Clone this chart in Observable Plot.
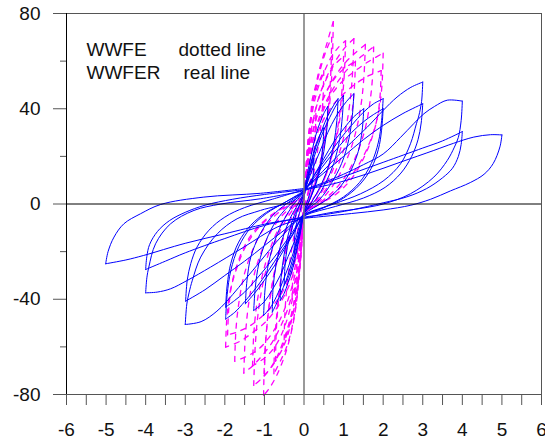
<!DOCTYPE html>
<html>
<head>
<meta charset="utf-8">
<script src="https://cdn.jsdelivr.net/npm/d3@7"></script>
<script src="https://cdn.jsdelivr.net/npm/@observablehq/plot@0.6"></script>
<style>
  html, body { margin: 0; padding: 0; background: #fff; }
  #chart svg { display: block; }
</style>
</head>
<body>
<div id="chart"></div>
<script>
// ---------- tick labels ----------
const xTickLabels = [-6, -5, -4, -3, -2, -1, 0, 1, 2, 3, 4, 5, 6];
const xMinorTicks = [-6, -5.5, -5, -4.5, -4, -3.5, -3, -2.5, -2, -1.5, -1, -0.5, 0, 0.5, 1, 1.5, 2, 2.5, 3, 3.5, 4, 4.5, 5, 5.5, 6];
const yTickLabels = [-80, -40, 0, 40, 80];
const yMinorTicks = [-60, -20, 20, 60];

// ---------- legend ----------
const seriesNames = ["WWFE", "WWFER"];
const seriesStyles = ["dotted line", "real line"];

// ---------- WWFER (blue, solid) : hysteresis cycles [displacement, force] ----------
const wwferLoop1 = [[0,3],[0.1,10],[0.2,16],[0.25,19],[0.24,14],[0.2,8],[0.1,2],[0,-3],[-0.1,-10],[-0.2,-16],[-0.25,-20],[-0.24,-15],[-0.2,-9],[-0.1,-3],[0,3]];
const wwferLoop2 = [[0,4],[0.1,12],[0.2,19],[0.3,25],[0.4,29],[0.5,32],[0.48,25],[0.42,17],[0.3,9],[0.15,2],[0,-4],[-0.1,-12],[-0.2,-20],[-0.3,-26],[-0.4,-31],[-0.5,-34],[-0.48,-26],[-0.42,-18],[-0.3,-10],[-0.15,-2],[0,4]];
const wwferLoop3 = [[0,5],[0.1,14],[0.2,22],[0.3,29],[0.4,34],[0.5,38],[0.6,41],[0.58,32],[0.5,22],[0.4,14],[0.25,6],[0.1,0],[0,-4],[-0.1,-13],[-0.2,-21],[-0.3,-28],[-0.4,-33],[-0.5,-37.5],[-0.6,-40.5],[-0.58,-31],[-0.5,-21],[-0.4,-13],[-0.25,-5],[-0.1,0],[0,5]];
const wwferLoop4 = [[0,5],[0.15,15],[0.3,24],[0.45,31],[0.6,37],[0.75,41.5],[0.86,44.2],[0.83,35],[0.75,25],[0.6,15],[0.4,7],[0.2,1],[0,-4],[-0.15,-15],[-0.3,-24],[-0.45,-32],[-0.6,-38],[-0.7,-42],[-0.8,-45.4],[-0.78,-35],[-0.7,-25],[-0.55,-15],[-0.35,-6],[-0.15,0],[0,5]];
const wwferLoop5 = [[0,5],[0.15,14],[0.3,22],[0.5,31],[0.7,38],[0.85,42.5],[1.0,45.6],[0.97,37],[0.9,27],[0.75,17],[0.55,9],[0.3,2],[0,-4],[-0.15,-14],[-0.3,-22],[-0.5,-31],[-0.7,-39],[-0.85,-43.5],[-1.02,-46.8],[-0.99,-37],[-0.92,-27],[-0.77,-17],[-0.55,-8],[-0.3,-1],[0,5]];
const wwferLoop6 = [[0,5],[0.2,14],[0.4,22],[0.6,30],[0.8,36.5],[1.0,41.5],[1.15,44.5],[1.26,46.3],[1.22,37],[1.13,27],[0.95,17],[0.7,9],[0.4,2],[0,-4],[-0.2,-14],[-0.4,-22],[-0.6,-30],[-0.8,-36],[-1.0,-41],[-1.27,-44.7],[-1.23,-35],[-1.14,-25],[-0.95,-15],[-0.7,-7],[-0.4,-1],[0,5]];
const wwferLoop7 = [[0,5],[0.25,12],[0.5,19],[0.75,26],[1.0,31.5],[1.25,36.5],[1.51,40],[1.47,31],[1.37,22],[1.15,13],[0.85,6],[0.5,1],[0,-4.5],[-0.25,-12],[-0.5,-19],[-0.75,-26],[-1.0,-32],[-1.25,-37.5],[-1.48,-41.9],[-1.44,-32],[-1.34,-22],[-1.12,-13],[-0.8,-5],[-0.45,0],[0,5]];
const wwferLoop8 = [[0,5],[0.3,13],[0.6,20],[0.9,27],[1.2,33],[1.5,38.5],[1.75,42],[2.0,44.2],[1.96,35],[1.88,26],[1.7,17],[1.4,9],[1.0,3],[0.5,-1.5],[0,-5],[-0.3,-13],[-0.6,-20.5],[-0.9,-28],[-1.2,-35],[-1.5,-41],[-1.75,-45.5],[-1.98,-48.3],[-1.94,-38],[-1.85,-28],[-1.65,-18],[-1.35,-10],[-0.95,-4],[-0.5,0.5],[0,5]];
const wwferLoop9 = [[0,5],[0.3,12],[0.6,18.5],[0.9,24.5],[1.2,30],[1.5,34.5],[1.75,37.5],[2.0,40],[1.96,31],[1.88,23],[1.7,15],[1.4,8],[1.0,2.5],[0.5,-1.5],[0,-5],[-0.3,-12],[-0.6,-19],[-0.9,-25.5],[-1.2,-31.5],[-1.5,-37],[-1.75,-40.5],[-1.98,-43.3],[-1.94,-34],[-1.85,-25],[-1.65,-16],[-1.35,-9],[-0.95,-3.5],[-0.5,0.5],[0,5.5]];
const wwferLoop10 = [[0,6],[0.33,11.3],[0.9,21],[1.3,27.5],[1.6,32.3],[2.0,39.3],[2.35,44.9],[2.7,49],[3.0,51.2],[2.97,43],[2.9,37],[2.84,33.7],[2.69,25.3],[2.44,16.9],[2.02,9.9],[1.43,4.3],[0.75,0],[0,-4.5],[-0.3,-9],[-0.7,-16],[-1.1,-24],[-1.5,-32],[-1.8,-38],[-2.2,-45],[-2.6,-49.4],[-3.0,-50.6],[-2.96,-42],[-2.9,-37],[-2.82,-32],[-2.61,-22.3],[-2.19,-12.5],[-1.69,-6.2],[-1.1,-2.7],[-0.26,1.5],[0,6]];
const wwferLoop11 = [[0,6],[0.5,13],[1.0,20],[1.5,27],[2.0,33],[2.5,38],[3.0,42.1],[2.96,34],[2.88,27],[2.72,20],[2.45,13],[2.05,7],[1.5,2.5],[0.8,-1],[0,-5],[-0.5,-11],[-1.0,-17.5],[-1.5,-24],[-2.0,-30],[-2.5,-36],[-2.99,-40.8],[-2.95,-32],[-2.86,-25],[-2.7,-18],[-2.4,-11],[-2.0,-5.5],[-1.5,-1.5],[-0.8,2],[0,6]];
const wwferLoop12 = [[0,6],[0.5,9],[1.0,12.5],[1.5,16.5],[2.0,21],[2.44,28],[2.77,33.7],[3.03,37.9],[3.3,41],[3.62,43.6],[4.0,43.2],[3.97,35],[3.9,28],[3.8,23.9],[3.62,18.3],[3.28,11.3],[2.69,4.3],[2.0,0],[1.3,-2.2],[0.75,-3.4],[0,-6],[-0.68,-9.7],[-1.52,-18.1],[-2.36,-26.5],[-2.95,-32.1],[-3.37,-35.6],[-3.71,-37],[-4.0,-37.3],[-3.97,-31],[-3.92,-26.5],[-3.75,-16.7],[-3.37,-8.3],[-2.78,-2.7],[-2.1,0],[-1.1,2.2],[0,5.5]];
const wwferLoop13 = [[0,5.5],[1.0,11.5],[2.0,17.5],[3.0,23.5],[3.5,26.5],[4.0,30.4],[3.97,25],[3.9,20],[3.75,15],[3.5,11],[3.1,6.5],[2.6,3],[2.0,0.5],[1.2,-2.5],[0.5,-4.5],[0,-5.5],[-1.0,-9],[-2.0,-14.5],[-3.0,-20.5],[-3.5,-24],[-4.0,-27.5],[-3.97,-22],[-3.9,-17],[-3.7,-11.5],[-3.4,-7],[-3.0,-3.5],[-2.5,-0.5],[-1.8,2],[-1.0,4],[0,6]];
const wwferLoop14 = [[0,6],[0.75,8.5],[1.6,12.7],[2.44,17.6],[3.28,22.5],[3.78,25.5],[4.29,28.1],[4.71,29.1],[5.0,29],[4.95,24],[4.78,17],[4.55,12.5],[4.2,9],[3.7,5.5],[3.2,2],[2.7,-0.5],[2.0,-2.5],[1.2,-4],[0.5,-5.2],[0,-6],[-0.5,-7],[-1.0,-8.5],[-2.0,-12.5],[-3.0,-16.5],[-4.05,-21.6],[-4.5,-23.5],[-5.01,-25.1],[-4.95,-20],[-4.8,-13.9],[-4.55,-8.3],[-4.13,-4.1],[-3.62,-0.2],[-2.53,2.9],[-1.1,4.5],[0,6.5]];

// ---------- WWFE (magenta, dashed) ----------
const wwfeLoop1 = [[0,2],[0.05,14],[0.1,24],[0.18,32],[0.3,38],[0.28,28],[0.22,17],[0.14,8],[0.06,2],[0,-2],[-0.05,-14],[-0.1,-25],[-0.18,-33],[-0.3,-40],[-0.28,-30],[-0.22,-18],[-0.14,-9],[-0.06,-2],[0,2]];
const wwfeLoop2 = [[0,2],[0.05,15],[0.1,26],[0.16,35],[0.24,44],[0.35,50],[0.5,56],[0.48,44],[0.42,32],[0.33,21],[0.22,11],[0.1,4],[0,-2],[-0.05,-15],[-0.1,-26],[-0.17,-36],[-0.26,-45],[-0.37,-51],[-0.5,-57],[-0.48,-45],[-0.42,-33],[-0.33,-21],[-0.22,-11],[-0.1,-3],[0,2]];
const wwfeLoop3 = [[0,2],[0.05,15],[0.1,26],[0.16,35],[0.21,44],[0.3,50],[0.37,55.4],[0.45,60],[0.54,65.2],[0.64,71],[0.74,76.6],[0.72,62],[0.68,48],[0.6,35],[0.5,24],[0.38,15],[0.25,8],[0.12,2],[0,-3],[-0.05,-15],[-0.13,-30],[-0.2,-42],[-0.34,-54.5],[-0.46,-61],[-0.59,-65.7],[-0.76,-71.3],[-0.74,-58],[-0.68,-45],[-0.6,-33],[-0.48,-22],[-0.35,-13],[-0.2,-5],[0,2]];
const wwfeLoop4 = [[0,2],[0.06,16],[0.12,28],[0.2,40],[0.3,49],[0.42,57],[0.55,64],[0.7,70],[0.68,56],[0.63,43],[0.55,31],[0.44,20],[0.3,10],[0.15,3],[0,-3],[-0.06,-16],[-0.13,-29],[-0.22,-41],[-0.33,-50],[-0.45,-57],[-0.58,-62],[-0.72,-66],[-0.7,-53],[-0.64,-40],[-0.55,-28],[-0.43,-17],[-0.28,-8],[-0.12,-2],[0,2]];
const wwfeLoop5 = [[0,2],[0.06,16],[0.14,30],[0.25,42],[0.4,51],[0.55,57],[0.7,62],[0.88,66],[1.05,68.5],[1.02,55],[0.96,43],[0.86,31],[0.72,21],[0.55,12],[0.35,5],[0.15,0],[0,-3],[-0.06,-18],[-0.14,-34],[-0.25,-48],[-0.4,-59],[-0.56,-67],[-0.72,-73],[-0.88,-77.5],[-1.02,-80.4],[-1.0,-66],[-0.94,-52],[-0.85,-39],[-0.72,-27],[-0.55,-16],[-0.35,-7],[-0.15,-1],[0,3]];
const wwfeLoop6 = [[0,2],[0.07,15],[0.16,28],[0.28,39],[0.42,47],[0.58,53],[0.75,58],[1.0,62],[0.97,50],[0.9,38],[0.8,27],[0.65,17],[0.45,8],[0.22,2],[0,-3],[-0.07,-16],[-0.16,-31],[-0.28,-44],[-0.42,-54],[-0.6,-62],[-0.8,-68],[-1.0,-72],[-0.97,-58],[-0.9,-45],[-0.8,-33],[-0.65,-21],[-0.45,-10],[-0.22,-3],[0,2]];
const wwfeLoop7 = [[0,3],[0.07,16],[0.16,29],[0.3,40],[0.47,49],[0.65,56],[0.85,61.5],[1.05,66],[1.26,69.4],[1.23,56],[1.17,44],[1.07,33],[0.92,23],[0.72,14],[0.48,6],[0.22,0],[0,-3],[-0.07,-17],[-0.16,-32],[-0.3,-45],[-0.47,-55],[-0.65,-63],[-0.85,-69],[-1.05,-73],[-1.27,-76.2],[-1.24,-62],[-1.18,-49],[-1.08,-37],[-0.93,-26],[-0.73,-16],[-0.5,-8],[-0.22,-1],[0,3]];
const wwfeLoop8 = [[0,3],[0.08,15],[0.18,27],[0.32,37],[0.5,45],[0.7,51],[0.95,56],[1.3,60],[1.27,48],[1.2,37],[1.08,27],[0.9,18],[0.66,9],[0.36,2],[0,-3],[-0.08,-16],[-0.18,-30],[-0.32,-42],[-0.5,-52],[-0.7,-59],[-0.95,-64],[-1.3,-68],[-1.27,-55],[-1.2,-43],[-1.08,-32],[-0.9,-21],[-0.66,-11],[-0.36,-3],[0,3]];
const wwfeLoop9 = [[0,3],[0.08,15],[0.2,28],[0.37,39],[0.58,47.5],[0.8,54],[1.05,59.5],[1.3,63.5],[1.55,67],[1.52,55],[1.46,44],[1.36,34],[1.2,24],[0.98,15],[0.7,7],[0.38,1],[0,-4],[-0.08,-16],[-0.2,-30],[-0.37,-42],[-0.58,-51],[-0.8,-58],[-1.05,-63.5],[-1.3,-68],[-1.52,-71],[-1.49,-58],[-1.43,-46],[-1.33,-35],[-1.18,-25],[-0.96,-15.5],[-0.68,-7.5],[-0.35,-1.5],[0,3]];
const wwfeLoop10 = [[0,3],[0.09,15],[0.22,27],[0.4,37],[0.62,45],[0.88,52],[1.15,57.5],[1.45,62],[1.76,66],[1.73,53],[1.66,42],[1.55,32],[1.36,22],[1.1,13],[0.78,6],[0.4,0.5],[0,-4],[-0.09,-16],[-0.22,-29],[-0.4,-40],[-0.62,-49],[-0.88,-56],[-1.15,-61],[-1.45,-64],[-1.75,-66],[-1.72,-53],[-1.65,-42],[-1.53,-31],[-1.34,-21],[-1.08,-12],[-0.74,-5],[-0.38,-0.5],[0,3]];
const wwfeLoop11 = [[0,3],[0.1,15],[0.25,28],[0.45,38],[0.7,46],[1.0,52],[1.3,56],[1.6,59.5],[2.0,63.4],[1.97,50],[1.9,40],[1.75,30],[1.5,20],[1.2,12],[0.8,5],[0.4,0],[0,-4],[-0.1,-16],[-0.25,-28],[-0.45,-37],[-0.7,-44],[-1.0,-50],[-1.3,-54],[-1.6,-57.5],[-1.98,-60.1],[-1.95,-48],[-1.88,-38],[-1.72,-28],[-1.48,-18],[-1.15,-10],[-0.75,-4],[-0.35,0],[0,3]];
const wwfeLoop12 = [[0,3],[0.1,14],[0.26,26],[0.48,35],[0.75,42],[1.05,47],[1.35,51],[1.65,54],[1.95,56],[1.92,45],[1.85,36],[1.7,27],[1.47,18],[1.17,10],[0.8,4],[0.4,0],[0,-4],[-0.1,-15],[-0.26,-26],[-0.48,-35],[-0.75,-42],[-1.05,-47],[-1.35,-51],[-1.65,-53.5],[-1.93,-55],[-1.9,-44],[-1.83,-34],[-1.68,-25],[-1.45,-16],[-1.13,-9],[-0.73,-3.5],[-0.35,0],[0,3]];

const wwferLoops = [wwferLoop1, wwferLoop2, wwferLoop3, wwferLoop4, wwferLoop5, wwferLoop6, wwferLoop7, wwferLoop8, wwferLoop9, wwferLoop10, wwferLoop11, wwferLoop12, wwferLoop13, wwferLoop14];
const wwfeLoops = [wwfeLoop1, wwfeLoop2, wwfeLoop3, wwfeLoop4, wwfeLoop5, wwfeLoop6, wwfeLoop7, wwfeLoop8, wwfeLoop9, wwfeLoop10, wwfeLoop11, wwfeLoop12];

// split each loop at its extreme displacements so tips stay sharp
function toSegments(loops, name) {
  const rows = [];
  loops.forEach((loop, li) => {
    let iMax = 0, iMin = 0;
    loop.forEach((p, i) => { if (p[0] > loop[iMax][0]) iMax = i; if (p[0] < loop[iMin][0]) iMin = i; });
    const cuts = [0, iMax, iMin, loop.length - 1];
    for (let s = 0; s < 3; s++) {
      loop.slice(cuts[s], cuts[s + 1] + 1).forEach(p => rows.push({x: p[0], y: p[1], seg: `${name}-${li}-${s}`}));
    }
  });
  return rows;
}
const wwferData = toSegments(wwferLoops, "wwfer");
const wwfeData = toSegments(wwfeLoops, "wwfe");

const axisColor = "#555";
const legendFont = 19;
const legendMarks = [
  Plot.text([seriesNames[0]], {frameAnchor: "top-left", dx: 20, dy: 36, text: d => d, textAnchor: "start", lineAnchor: "middle", fontSize: legendFont, fill: "#111"}),
  Plot.text([seriesStyles[0]], {frameAnchor: "top-left", dx: 112, dy: 36, text: d => d, textAnchor: "start", lineAnchor: "middle", fontSize: legendFont, fill: "#111"}),
  Plot.text([seriesNames[1]], {frameAnchor: "top-left", dx: 20, dy: 59.5, text: d => d, textAnchor: "start", lineAnchor: "middle", fontSize: legendFont, fill: "#111"}),
  Plot.text([seriesStyles[1]], {frameAnchor: "top-left", dx: 117, dy: 59.5, text: d => d, textAnchor: "start", lineAnchor: "middle", fontSize: legendFont, fill: "#111"})
];

const chart = Plot.plot({
  width: 545,
  height: 444,
  marginLeft: 66,
  marginRight: 4,
  marginTop: 13,
  marginBottom: 50,
  x: {domain: [-6, 6], label: null},
  y: {domain: [-80, 80], label: null},
  style: {fontFamily: "'Liberation Sans', Arial, sans-serif", fontSize: "19px", color: "#111", background: "#fff"},
  marks: [
    // curves
    Plot.line(wwfeData, {x: "x", y: "y", z: "seg", stroke: "#ff00ff", strokeWidth: 1.3, strokeDasharray: "5,6", curve: "catmull-rom"}),
    Plot.line(wwferData, {x: "x", y: "y", z: "seg", stroke: "#0000ff", strokeWidth: 1, curve: "catmull-rom"}),
    // zero lines
    Plot.ruleX([0], {stroke: "#777", strokeWidth: 1.5}),
    Plot.ruleY([0], {stroke: "#000", strokeWidth: 1}),
    // frame
    Plot.ruleY([80], {stroke: axisColor}),
    Plot.ruleY([-80], {stroke: axisColor}),
    Plot.ruleX([6], {stroke: axisColor}),
    Plot.ruleX([-6], {stroke: "#000"}),
    // y axis
    Plot.axisY({ticks: yTickLabels, tickSize: 13, tickPadding: 13, stroke: axisColor, tickFormat: d => String(d), fontSize: 19, label: null}),
    Plot.axisY({ticks: yMinorTicks, tickSize: 6, text: null, stroke: axisColor, label: null}),
    // x axis
    Plot.axisX({ticks: xMinorTicks, tickSize: 11, text: null, stroke: axisColor, label: null}),
    Plot.axisX({ticks: xTickLabels, tickSize: 0, tickPadding: 28, tickFormat: d => String(d), fontSize: 19, label: null}),
    // legend
    ...legendMarks
  ]
});
document.getElementById("chart").appendChild(chart);
</script>
</body>
</html>
